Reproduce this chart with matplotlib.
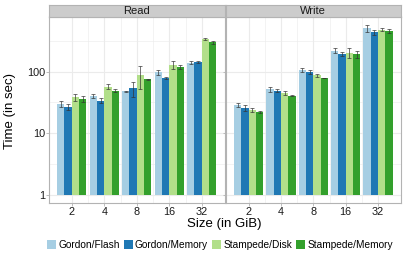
import numpy as np
import matplotlib
matplotlib.use("Agg")
import matplotlib.pyplot as plt
from matplotlib.patches import Patch

plt.rcParams["font.family"] = ["Liberation Sans", "DejaVu Sans"]

sizes = ["2", "4", "8", "16", "32"]
series = ["Gordon/Flash", "Gordon/Memory", "Stampede/Disk", "Stampede/Memory"]
colors = ["#A6CEE3", "#1F78B4", "#B2DF8A", "#33A02C"]

# mean time (sec) per size, one list per series
read_mean = {
    "Gordon/Flash": [30, 40, 48, 97, 140],
    "Gordon/Memory": [27, 34, 54, 79, 145],
    "Stampede/Disk": [39, 57, 87, 128, 340],
    "Stampede/Memory": [36, 49, 75, 120, 295],
}
read_err = {
    "Gordon/Flash": [3, 3, 1, 8, 6],
    "Gordon/Memory": [3, 3, 15, 2, 5],
    "Stampede/Disk": [5, 5, 35, 20, 15],
    "Stampede/Memory": [4, 3, 2, 8, 15],
}
write_mean = {
    "Gordon/Flash": [29, 52, 106, 218, 500],
    "Gordon/Memory": [26, 49, 99, 193, 430],
    "Stampede/Disk": [24, 45, 87, 202, 475],
    "Stampede/Memory": [22, 41, 79, 193, 453],
}
write_err = {
    "Gordon/Flash": [2.5, 5, 7, 18, 60],
    "Gordon/Memory": [3, 3, 8, 15, 40],
    "Stampede/Disk": [2, 3, 4, 35, 25],
    "Stampede/Memory": [1, 1, 1, 25, 35],
}

panels = [("Read", read_mean, read_err), ("Write", write_mean, write_err)]

W, H = 407, 262
fig = plt.figure(figsize=(W / 100, H / 100), dpi=100)

def fx(px):
    return px / W

def fy(py):
    return 1 - py / H

panel_x = [(49, 224.5), (226, 400.7)]
top, bottom, strip_top = 16.5, 203.3, 5

border = "#B3B3B3"
grid = "#EBEBEB"
text_col = "#1A1A1A"

x = np.arange(1, len(sizes) + 1)
group_w = 0.9
bar_w = group_w / len(series)

for i, (name, means, errs) in enumerate(panels):
    x0, x1 = panel_x[i]
    ax = fig.add_axes([fx(x0), fy(bottom), fx(x1 - x0), fy(top) - fy(bottom)])
    ax.set_yscale("log")
    ax.set_xlim(0.3, 5.7)
    ax.set_ylim(10 ** -0.13, 10 ** 2.89)

    # grid: majors and the in-between minors
    for yv in [1, 10, 100]:
        ax.axhline(yv, color=grid, lw=0.8, zorder=0)
    for yv in [10 ** 0.5, 10 ** 1.5, 10 ** 2.5]:
        ax.axhline(yv, color=grid, lw=0.4, zorder=0)
    for xv in x:
        ax.axvline(xv, color=grid, lw=0.8, zorder=0)
    for xv in x[:-1] + 0.5:
        ax.axvline(xv, color=grid, lw=0.4, zorder=0)

    for j, s in enumerate(series):
        xs = x - group_w / 2 + bar_w * (j + 0.5)
        m = np.array(means[s], dtype=float)
        ax.bar(xs, m - 1, bottom=1, width=bar_w, color=colors[j],
               linewidth=0, zorder=2)
        ax.errorbar(xs, m, yerr=errs[s], fmt="none", ecolor="#333333",
                    elinewidth=0.6, capsize=1.3, capthick=0.6, alpha=0.8,
                    zorder=3)

    ax.set_xticks(x)
    ax.set_xticklabels(sizes)
    ax.set_yticks([1, 10, 100])
    ax.yaxis.set_minor_locator(matplotlib.ticker.NullLocator())
    if i == 0:
        ax.set_yticklabels(["1", "10", "100"])
    else:
        ax.set_yticklabels([])
        ax.tick_params(axis="y", length=0)
    ax.tick_params(colors=border, labelcolor=text_col, labelsize=7.8,
                   length=2, width=0.6, pad=1)
    for sp in ax.spines.values():
        sp.set_color(border)
        sp.set_linewidth(0.8)

    # facet strip
    sax = fig.add_axes([fx(x0), fy(top), fx(x1 - x0), fy(strip_top) - fy(top)])
    sax.set_facecolor("#CCCCCC")
    sax.set_xticks([])
    sax.set_yticks([])
    for sp in sax.spines.values():
        sp.set_color(border)
        sp.set_linewidth(0.8)
    sax.text(0.5, 0.45, name, ha="center", va="center", fontsize=8,
             color=text_col, transform=sax.transAxes)

fig.text(fx(224), fy(224), "Size (in GiB)", ha="center", va="center",
         fontsize=9.5, color="black")
fig.text(fx(10), fy(111), "Time (in sec)", ha="center", va="center",
         rotation=90, fontsize=9.5, color="black")

handles = [Patch(facecolor=c, edgecolor="none") for c in colors]
fig.legend(handles, series, loc="center", bbox_to_anchor=(fx(220), fy(245)),
           ncol=4, frameon=False, fontsize=7.3, handlelength=0.9,
           handleheight=0.9, handletextpad=0.2, columnspacing=0.4,
           borderaxespad=0)

fig.savefig("out.png", dpi=100)
